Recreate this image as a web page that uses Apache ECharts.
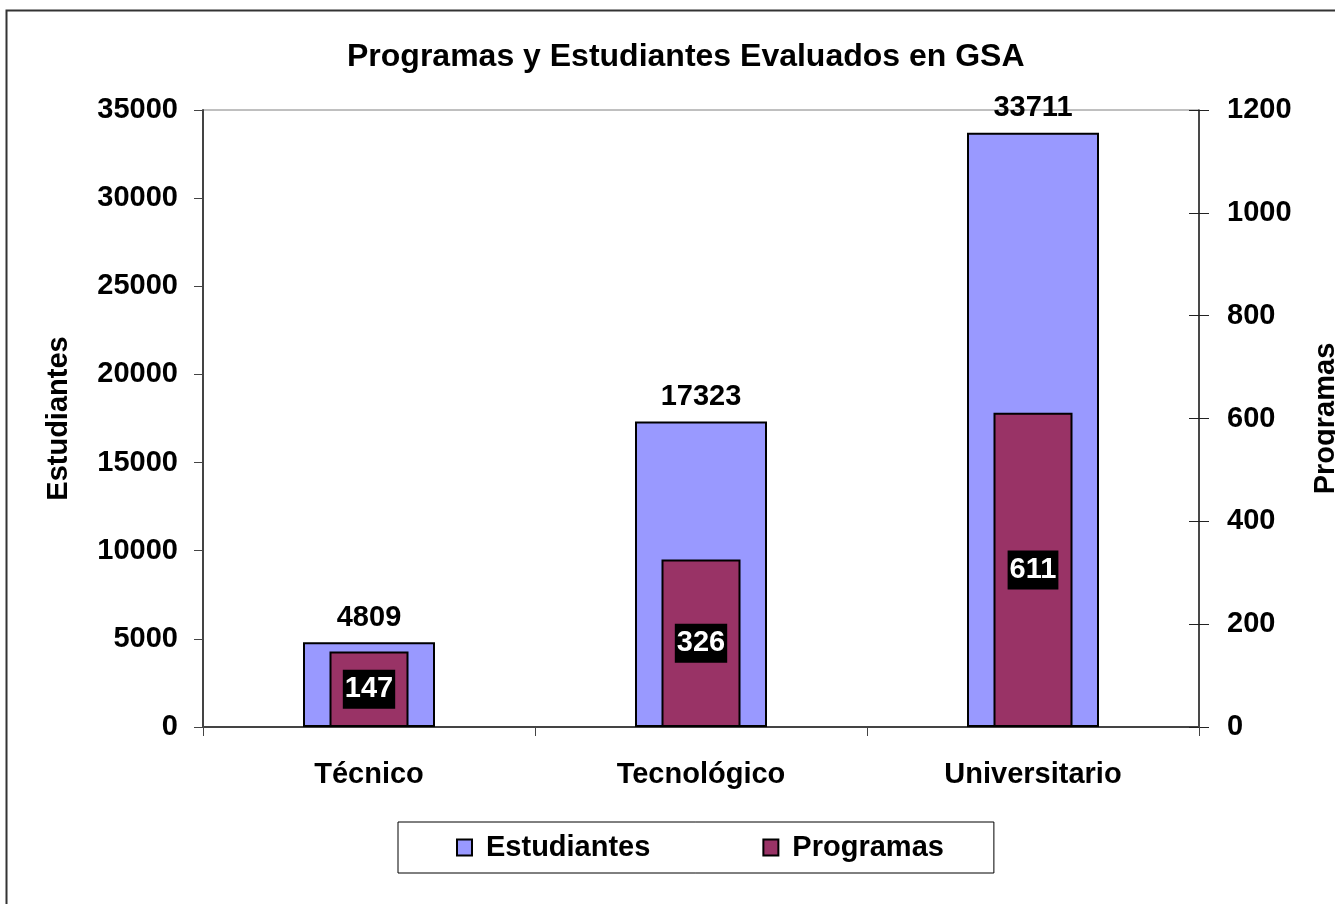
<!DOCTYPE html>
<html>
<head>
<meta charset="utf-8">
<script src="https://cdn.jsdelivr.net/npm/echarts@6/dist/echarts.min.js"></script>
<style>
  html, body { margin: 0; padding: 0; background: #fff; }
  #chart { width: 1335px; height: 904px; }
</style>
</head>
<body>
<div id="chart"></div>
<script>
const categories = ['Técnico', 'Tecnológico', 'Universitario'];
const estudiantes = [4809, 17323, 33711];
const programas = [147, 326, 611];

const font = '"Liberation Sans", Arial, sans-serif';
const txt = { fontSize: 29, fontWeight: 'bold', color: '#000', fontFamily: font };
const chart = echarts.init(document.getElementById('chart'));

chart.setOption({
  animation: false,
  textStyle: { fontFamily: font },
  // outer chart frame
  graphic: [{
    type: 'rect', left: 4, top: 8,
    shape: { width: 1400, height: 1000 },
    style: { fill: 'none', stroke: '#333', lineWidth: 2 },
    silent: true
  }],
  title: {
    text: 'Programas y Estudiantes Evaluados en GSA',
    left: 342, top: 36,
    textStyle: { fontSize: 32, fontWeight: 'bold', color: '#000', fontFamily: font }
  },
  legend: {
    left: 398, top: 822,
    padding: [10, 50, 10, 58],
    borderColor: '#000', borderWidth: 1,
    itemWidth: 15, itemHeight: 16, itemGap: 112,
    icon: 'rect',
    textStyle: Object.assign({}, txt, { padding: [0, 0, 0, 9], lineHeight: 31 }),
    data: ['Estudiantes', 'Programas']
  },
  grid: {
    left: 203, right: 136, top: 110, bottom: 177,
    outerBoundsMode: 'none',
    show: true, borderColor: '#808080', borderWidth: 1
  },
  xAxis: [{
    type: 'category', data: categories,
    axisLine: { lineStyle: { color: '#444', width: 2 } },
    axisTick: { show: true, length: 9, lineStyle: { color: '#444' } },
    axisLabel: Object.assign({ margin: 33 }, txt)
  }, {
    type: 'category', data: categories, show: false
  }],
  yAxis: [{
    type: 'value', min: 0, max: 35000, interval: 5000,
    name: 'Estudiantes', nameLocation: 'middle', nameRotate: 90, nameGap: 130,
    nameTextStyle: txt,
    axisLine: { show: true, lineStyle: { color: '#444', width: 2 } },
    axisTick: { show: true, length: 9, lineStyle: { color: '#444' } },
    axisLabel: Object.assign({ margin: 25, formatter: v => String(v) }, txt),
    splitLine: { show: false }
  }, {
    type: 'value', min: 0, max: 1200, interval: 200, position: 'right',
    name: 'Programas', nameLocation: 'middle', nameRotate: 90, nameGap: 112,
    nameTextStyle: txt,
    axisLine: { show: true, lineStyle: { color: '#222', width: 1.5 } },
    axisTick: { show: true, length: 10, lineStyle: { color: '#222' } },
    axisLabel: Object.assign({ margin: 28, formatter: v => String(v) }, txt),
    splitLine: { show: false }
  }, {
    // second copy of the right axis only for the inward half of the crossing ticks
    type: 'value', min: 0, max: 1200, interval: 200, position: 'right',
    axisLine: { show: false },
    axisTick: { show: true, inside: true, length: 10, lineStyle: { color: '#222' } },
    axisLabel: { show: false },
    splitLine: { show: false }
  }],
  series: [{
    name: 'Estudiantes', type: 'bar',
    xAxisIndex: 0, yAxisIndex: 0,
    data: estudiantes, barWidth: 132,
    itemStyle: { color: '#9999FF', borderColor: '#000', borderWidth: 2 },
    label: Object.assign({ show: true, position: 'top', distance: 10 }, txt)
  }, {
    name: 'Programas', type: 'bar',
    xAxisIndex: 1, yAxisIndex: 1,
    data: programas, barWidth: 79,
    itemStyle: { color: '#993366', borderColor: '#000', borderWidth: 2 },
    label: Object.assign({}, txt, {
      show: true, position: 'inside', color: '#fff',
      backgroundColor: '#000', padding: [6, 2, 4, 2]
    })
  }]
});
</script>
</body>
</html>
